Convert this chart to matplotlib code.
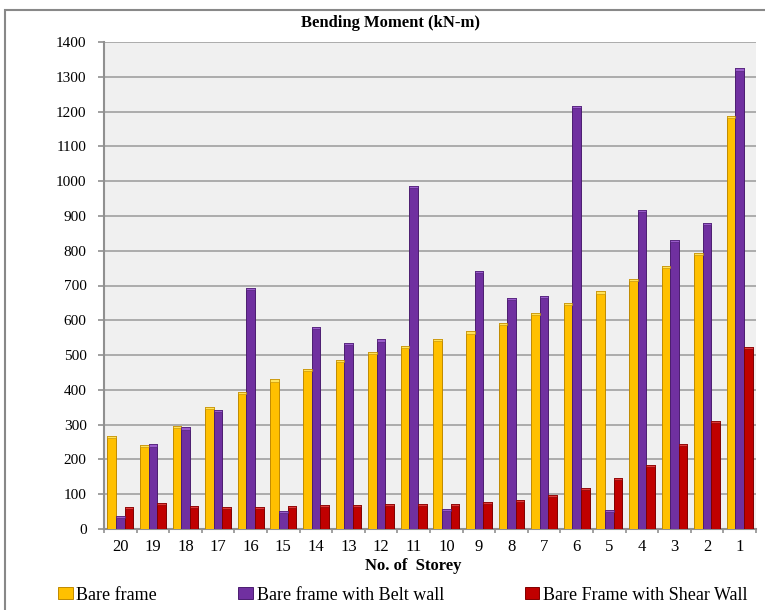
import numpy as np
import matplotlib.pyplot as plt
from matplotlib.patches import Rectangle

storeys = [str(s) for s in range(20, 0, -1)]

bare = [268, 242, 297, 350, 394, 430, 461, 487, 509, 527,
        547, 568, 593, 620, 651, 683, 719, 756, 793, 1187]
belt = [37, 243, 292, 341, 693, 51, 581, 535, 545, 987,
        58, 741, 664, 671, 1216, 54, 918, 831, 879, 1324]
shear = [64, 74, 66, 64, 64, 66, 68, 70, 72, 72,
         72, 77, 84, 97, 118, 146, 185, 244, 310, 523]

labels = ['Bare frame', 'Bare frame with Belt wall', 'Bare Frame with Shear Wall']
colors = ['#FFC000', '#7030A0', '#C00000']
edges = ['#C08A00', '#4B1D70', '#800000']
caps = ['#FFE35A', '#9A5CCB', '#E03A3A']

plt.rcParams['font.family'] = ['Liberation Serif', 'DejaVu Serif']

fig = plt.figure(figsize=(7.65, 6.1), dpi=100)
ax = fig.add_axes([104/765, 1-529/610, 652/765, 487/610])
ax.set_facecolor('#F0F0F0')

x = np.arange(len(storeys))
w = 0.265
for k, vals in enumerate([bare, belt, shear]):
    vals = np.array(vals)
    pos = x + (k-1)*w
    ax.bar(pos, vals, w, color=colors[k], edgecolor=edges[k], linewidth=0.7,
           label=labels[k], zorder=3)
    # lighter cap on each bar top
    ax.bar(pos, 6, w, bottom=vals-6, color=caps[k], edgecolor=edges[k],
           linewidth=0.4, zorder=4)

ax.set_xlim(-0.5, len(storeys)-0.5)
ax.set_ylim(0, 1400)
ax.set_yticks(np.arange(0, 1401, 100))
ax.set_xticks(x)
ax.set_xticklabels(storeys, fontsize=12)
ax.set_xticks(np.arange(-0.5, len(storeys)), minor=True)
ax.tick_params(axis='x', which='major', length=0, pad=7)
ax.tick_params(axis='x', which='minor', length=3, color='#909090', width=1.2)
ax.tick_params(axis='y', length=4.5, color='#909090', width=1.2, pad=8,
               labelsize=11)
ax.yaxis.grid(True, color='#A0A0A0', linewidth=1.2, zorder=0)
ax.set_axisbelow(True)

for s in ['top', 'right']:
    ax.spines[s].set_visible(False)
for s in ['left', 'bottom']:
    ax.spines[s].set_color('#909090')
    ax.spines[s].set_linewidth(1.5)

fig.text(391/765, 1-23/610, 'Bending Moment (kN-m)', ha='center', va='center',
         fontsize=12, fontweight='bold')
fig.text(413/765, 1-566/610, 'No. of  Storey', ha='center', va='center',
         fontsize=12, fontweight='bold')

fig.legend(loc='center', bbox_to_anchor=(403/765, 1-595/610), ncol=3,
           frameon=False, fontsize=13, handlelength=0.8, handleheight=0.6,
           handletextpad=0.2, columnspacing=4.5)

# outer chart border
fig.add_artist(Rectangle((5/765, -0.1), 1.2, 1.1-10/610, transform=fig.transFigure,
                         fill=False, edgecolor='#888888', linewidth=1.5))

fig.savefig('out.png', dpi=100)
